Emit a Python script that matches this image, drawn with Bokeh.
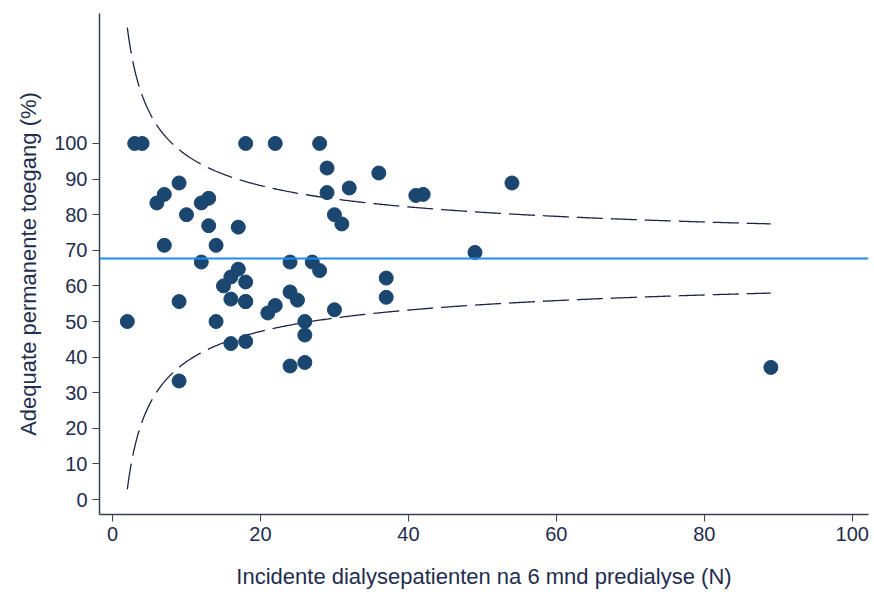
import numpy as np
from bokeh.plotting import figure
from bokeh.models import Range1d, Span, FixedTicker, ColumnDataSource
from bokeh.embed import file_html
from bokeh.resources import INLINE

# Data: number of incident dialysis patients (N) and % adequate permanent access
n_patients = [2, 3, 4, 6, 7, 7, 9, 9, 9, 10, 12, 12, 13, 13, 14, 14, 15, 16, 16, 16,
              17, 17, 18, 18, 18, 18, 18, 21, 22, 22, 24, 24, 24, 25, 26, 26, 26, 27,
              28, 28, 29, 29, 30, 30, 31, 32, 36, 37, 37, 41, 42, 49, 54, 89]
pct_access = [50.0, 100.0, 100.0, 83.3, 85.7, 71.4, 88.9, 55.6, 33.3, 80.0, 83.3, 66.7,
              84.6, 76.9, 71.4, 50.0, 60.0, 62.5, 56.3, 43.8, 76.5, 64.7, 100.0, 61.1,
              55.6, 44.4, 55.6, 52.4, 100.0, 54.5, 66.7, 58.3, 37.5, 56.0, 50.0, 46.2,
              38.5, 66.7, 100.0, 64.3, 93.1, 86.2, 80.0, 53.3, 77.4, 87.5, 91.7, 62.2,
              56.8, 85.4, 85.7, 69.4, 88.9, 37.1]
overall_mean = 67.7      # overall percentage (%)
z_value = 1.96           # 95% control limits
limit_n_min, limit_n_max = 2, 89
y_ticks = [0, 10, 20, 30, 40, 50, 60, 70, 80, 90, 100]
x_ticks = [0, 20, 40, 60, 80, 100]

# Funnel control limits derived from the overall mean
n_lim = np.linspace(limit_n_min, limit_n_max, 400)
p0 = overall_mean / 100.0
se = np.sqrt(p0 * (1 - p0) / n_lim) * 100.0
upper = overall_mean + z_value * se
lower = overall_mean - z_value * se

FONT = "Liberation Sans"
TXT = "#1f2d50"
AX = "#3c4150"

p = figure(width=872, height=593, output_backend="svg", toolbar_location=None,
           x_range=Range1d(-1.76, 102.2), y_range=Range1d(-4.2, 136.5),
           min_border_left=99, min_border_right=4, min_border_top=13, min_border_bottom=79)
p.outline_line_color = None
p.grid.visible = False
p.background_fill_color = "white"

p.line(n_lim, upper, line_color="#1c2545", line_width=1.3, line_dash="26 8")
p.line(n_lim, lower, line_color="#1c2545", line_width=1.3, line_dash="26 8")
p.add_layout(Span(location=overall_mean, dimension="width", line_color="#1e8cf0", line_width=2))

src = ColumnDataSource(dict(x=n_patients, y=pct_access))
p.scatter("x", "y", source=src, size=14, fill_color="#1a4670", line_color="#1a4670")

for ax in (p.xaxis[0], p.yaxis[0]):
    ax.axis_line_color = AX
    ax.axis_line_width = 1.5
    ax.major_tick_line_color = AX
    ax.major_tick_line_width = 1
    ax.major_tick_in = 0
    ax.major_tick_out = 7
    ax.minor_tick_line_color = None
    ax.major_label_text_font = FONT
    ax.major_label_text_font_size = "20px"
    ax.major_label_text_color = TXT
    ax.major_label_standoff = 5
    ax.axis_label_text_font = FONT
    ax.axis_label_text_font_size = "22px"
    ax.axis_label_text_font_style = "normal"
    ax.axis_label_text_color = TXT

p.xaxis.ticker = FixedTicker(ticks=x_ticks)
p.yaxis.ticker = FixedTicker(ticks=y_ticks)
p.xaxis.axis_label = "Incidente dialysepatienten na 6 mnd predialyse (N)"
p.yaxis.axis_label = "Adequate permanente toegang (%)"
p.xaxis.axis_label_standoff = 20
p.yaxis.axis_label_standoff = 10

open("out.html", "w").write(file_html(p, INLINE))
